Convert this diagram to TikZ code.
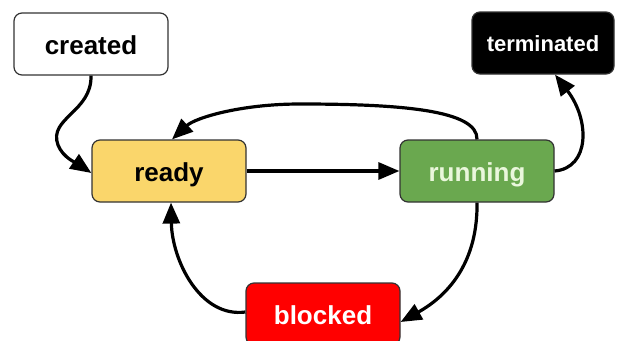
\documentclass[tikz,border=0pt]{standalone}
\usepackage{fontspec}
\setmainfont{Liberation Sans}
\usetikzlibrary{arrows.meta}
\definecolor{readyc}{HTML}{FAD66B}
\definecolor{runc}{HTML}{6AA84F}
\definecolor{runtext}{HTML}{EAF7DC}
\definecolor{blockc}{HTML}{FF0000}
\definecolor{edgec}{HTML}{333333}
\begin{document}
\begin{tikzpicture}[x=1pt,y=-1pt,
  state/.style={draw=edgec,line width=1.2pt,rounded corners=8pt,minimum width=154pt,minimum height=62pt,font=\bfseries\fontsize{26}{26}\selectfont,inner sep=0pt,text height=20pt,text depth=0pt},
  conn/.style={line width=3.2pt,-{Triangle[length=21pt,width=17pt]}}]
\useasboundingbox (0,0) rectangle (617,340);
\clip (0,0) rectangle (617,340);
\node[state,fill=white] (created) at (91,44) {created};
\node[state,fill=black,text=white,minimum width=142pt,font=\bfseries\fontsize{22}{22}\selectfont,text height=17pt] (term) at (543,43) {terminated};
\node[state,fill=readyc] (ready) at (169,171) {ready};
\node[state,fill=runc,text=runtext] (run) at (477,171) {running};
\node[state,fill=blockc,text=white] (block) at (323,314) {blocked};
\draw[conn] (created.south) .. controls (92,112) and (48,118) .. (58,145) .. controls (63,158) and (78,164) .. ([yshift=-2pt]ready.west);
\draw[conn] (ready.east) -- (run.west);
\draw[conn] (run.north) .. controls (478,110) and (400,104) .. (300,104) .. controls (240,104) and (195,118) .. ([xshift=3pt]ready.north);
\draw[conn] (run.east) .. controls (590,168) and (590,120) .. ([xshift=12pt]term.south);
\draw[conn] (run.south) .. controls (478,270) and (440,300) .. ([yshift=-8pt]block.east);
\draw[conn] ([yshift=2pt]block.west) .. controls (200,318) and (172,260) .. ([xshift=2pt]ready.south);
\end{tikzpicture}
\end{document}
